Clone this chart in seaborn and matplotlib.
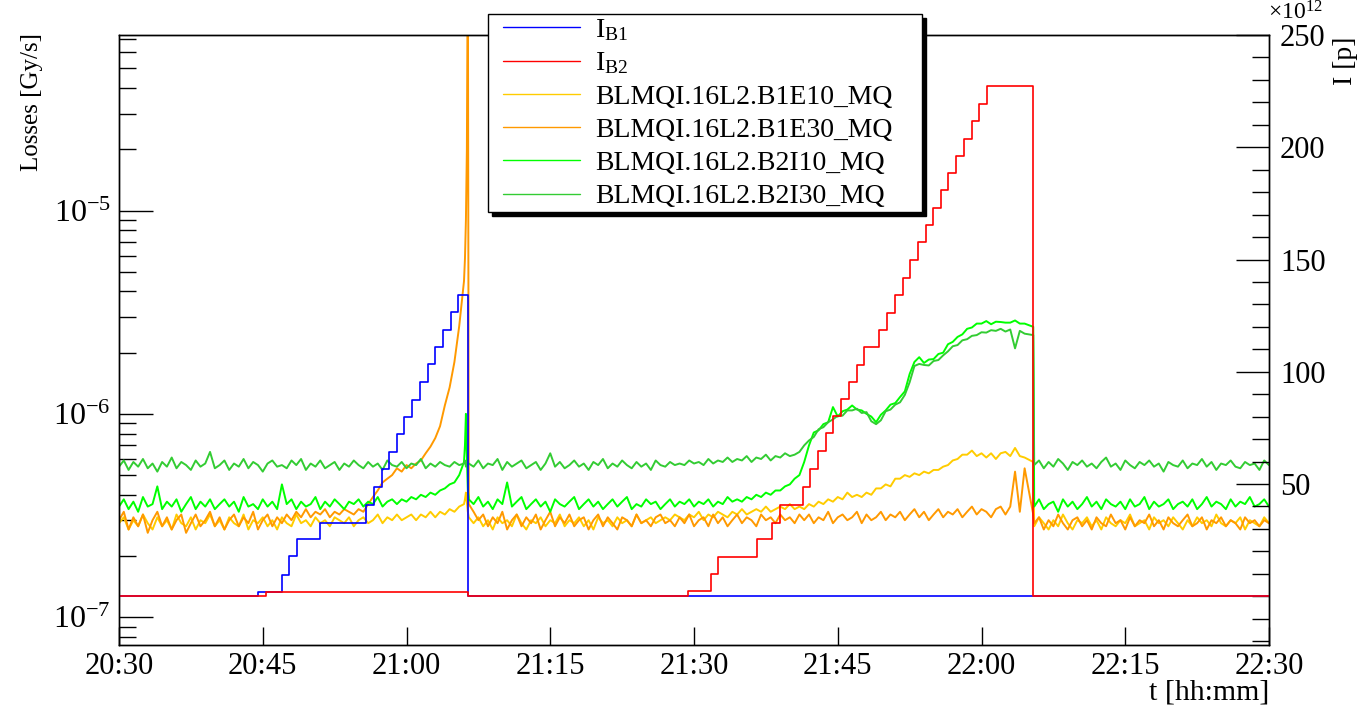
import numpy as np
import pandas as pd
import matplotlib
matplotlib.use("Agg")
import matplotlib.pyplot as plt
import seaborn as sns
from matplotlib.ticker import FixedLocator, FixedFormatter, NullFormatter, NullLocator
from matplotlib.lines import Line2D
from matplotlib.legend_handler import HandlerLine2D

# ---------------- data ----------------
# time axis: minutes after 20:30
t_early = list(np.arange(0.0, 36.0, 0.5))            # 0 .. 35.5  (72)
t_event = [36.0, 36.1, 36.2, 36.3, 36.4, 36.5]        # beam-1 dump (6)
t_late = list(np.arange(37.0, 95.0, 0.5)) + [95.4] + list(np.arange(95.5, 120.5, 0.5))  # (167)
t_min = t_early + t_event + t_late

x_tick_pos = [0, 15, 30, 45, 60, 75, 90, 105, 120]
x_tick_labels = ["20:30", "20:45", "21:00", "21:15", "21:30", "21:45", "22:00", "22:15", "22:30"]

# losses in units of 1e-7 Gy/s
b1e10 = [
    2.9, 3.1, 2.7, 3.0, 2.8, 3.2, 2.9, 2.7, 3.1, 2.8,
    3.0, 2.7, 3.2, 2.9, 2.8, 3.1, 2.7, 3.0, 2.9, 3.2,
    2.8, 3.0, 2.7, 3.1, 2.9, 2.8, 3.2, 2.7, 3.0, 2.9,
    3.1, 2.8, 3.0, 2.7, 3.1, 2.9, 2.8, 3.2, 2.9, 3.0,
    2.8, 3.1, 2.9, 3.0, 2.8, 3.1, 3.0, 2.9, 3.1, 2.8,
    3.0, 3.1, 2.9, 3.0, 3.2, 2.9, 3.1, 3.0, 3.2, 3.0,
    3.1, 3.2, 3.0, 3.2, 3.1, 3.3, 3.1, 3.3, 3.2, 3.4,
    3.3, 3.5,
    3.6, 3.8, 4.1, 3.7, 3.3, 3.1,
    2.9, 3.1, 2.8, 3.0, 2.7, 3.1, 2.9, 3.0, 2.8, 3.2,
    2.9, 2.7, 3.0, 2.9, 3.1, 2.8, 3.0, 2.9, 3.2, 2.8,
    3.0, 2.9, 3.1, 2.8, 3.0, 2.7, 3.1, 2.9, 3.0, 2.8,
    3.1, 2.9, 3.0, 2.8, 3.2, 2.9, 3.0, 3.1, 2.9, 3.0,
    3.1, 3.0, 3.2, 3.1,
    3.0, 3.2, 3.1, 3.3, 3.0, 3.2, 3.1, 3.3, 3.2, 3.1,
    3.3, 3.2, 3.4, 3.2, 3.3, 3.4, 3.3, 3.5, 3.3, 3.4,
    3.5, 3.4, 3.6, 3.4, 3.5,
    3.4, 3.6, 3.5, 3.7, 3.6, 3.8, 3.7, 3.9, 3.8, 4.1,
    3.9, 4.0, 3.9, 4.1, 4.0, 4.3, 4.3, 4.5, 4.4, 4.8,
    4.8, 5.0, 4.9, 5.1, 5.0, 5.2, 5.1, 5.3, 5.3, 5.5,
    5.6, 5.9, 6.0, 6.3, 6.3, 6.6, 6.2, 6.4, 6.1, 6.4,
    6.0, 6.4, 6.5, 6.2, 6.8, 6.2, 6.1, 5.8,
    2.8, 3.1, 2.9, 2.7, 3.0, 2.8, 3.2, 2.9, 2.7, 3.0,
    2.9, 3.1, 2.8, 3.0, 2.7, 3.1, 2.9, 2.8, 3.0, 2.9,
    3.2, 2.8, 2.9, 3.0, 2.7, 3.1, 2.9, 3.0, 2.8, 3.1,
    2.9, 2.7, 3.0, 2.8, 3.1, 2.9, 3.0, 2.8, 3.2, 2.9,
    2.8, 3.0, 2.9, 3.1, 2.7, 3.0, 2.9, 2.8, 3.1, 2.9,
]

b1e30 = [
    3.0, 3.3, 2.7, 3.1, 2.8, 3.2, 2.6, 3.0, 3.3, 2.8,
    3.1, 2.7, 3.0, 3.2, 2.6, 2.9, 3.2, 2.8, 3.0, 3.3,
    2.8, 3.1, 2.7, 3.0, 3.2, 2.8, 3.1, 2.9, 3.3, 2.7,
    3.0, 3.2, 2.8, 3.1, 2.9, 3.2, 3.0, 3.3, 3.1, 3.4,
    3.1, 3.3, 3.2, 3.4, 3.1, 3.3, 3.2, 3.4, 3.3, 3.2,
    3.4, 3.3, 3.6, 3.9, 4.2, 4.6, 4.8, 5.0, 5.4, 5.2,
    5.6, 5.4, 5.7, 5.9, 6.4, 6.9, 7.6, 8.7, 11.0, 13.5,
    18.0, 27.0,
    45.0, 58.0, 90.0, 200.0, 2000.0, 3.6,
    3.3, 3.0, 3.2, 2.8, 3.1, 2.9, 3.3, 2.7, 3.0, 3.2,
    2.8, 3.1, 2.9, 3.2, 2.7, 3.0, 3.3, 2.8, 3.1, 2.9,
    3.2, 2.8, 3.0, 3.1, 2.7, 3.0, 3.2, 2.8, 3.1, 2.9,
    2.7, 3.1, 3.0, 2.8, 3.2, 2.9, 3.0, 2.8, 3.1, 3.2,
    2.9, 3.0, 2.8, 3.1,
    2.9, 3.2, 2.8, 3.0, 3.1, 2.8, 3.2, 2.9, 3.1, 2.8,
    3.0, 3.2, 2.9, 3.1, 3.0, 2.8, 3.2, 3.0, 3.1, 2.9,
    3.2, 3.0, 3.1, 2.9, 3.2,
    3.0, 3.2, 2.9, 3.1, 3.0, 3.3, 2.9, 3.1, 3.2, 3.0,
    3.1, 3.3, 2.9, 3.2, 3.0, 3.1, 3.3, 3.0, 3.2, 3.1,
    3.3, 3.0, 3.2, 3.4, 3.1, 3.3, 3.0, 3.2, 3.4, 3.1,
    3.3, 3.2, 3.4, 3.1, 3.3, 3.5, 3.2, 3.4, 3.3, 3.1,
    3.4, 3.5, 3.2, 3.5, 5.2, 3.3, 5.4, 3.2,
    2.9, 3.1, 2.7, 3.0, 2.8, 3.2, 2.9, 2.7, 3.0, 3.1,
    2.8, 3.0, 2.7, 3.1, 2.9, 2.8, 3.2, 2.9, 3.0, 2.7,
    3.1, 2.8, 3.0, 2.9, 3.2, 2.8, 3.0, 2.7, 3.1, 2.9,
    2.8, 3.0, 3.2, 2.8, 2.9, 3.1, 2.7, 3.0, 2.9, 3.1,
    2.8, 3.0, 2.9, 2.7, 3.1, 2.9, 3.0, 2.8, 3.0, 2.9,
]

b2i10 = [
    3.5, 3.8, 3.4, 3.7, 3.3, 3.9, 3.5, 3.6, 4.4, 3.4,
    3.7, 3.5, 3.8, 3.3, 3.6, 3.9, 3.4, 3.7, 3.5, 3.8,
    3.4, 3.6, 3.8, 3.5, 3.7, 3.3, 3.9, 3.5, 3.6, 3.4,
    3.8, 3.5, 3.7, 3.4, 4.5, 3.6, 3.8, 3.4, 3.7, 3.5,
    3.6, 3.9, 3.4, 3.7, 3.5, 3.8, 3.6, 3.4, 3.7, 3.6,
    3.8, 3.5, 3.7, 3.6, 3.9, 3.5, 3.7, 3.8, 3.6, 3.8,
    3.7, 3.9, 3.8, 4.0, 3.9, 4.1, 4.0, 4.2, 4.3, 4.5,
    4.6, 5.0,
    5.8, 7.0, 10.0, 6.2, 4.2, 3.8,
    3.6, 3.9, 3.5, 3.7, 3.4, 3.8, 3.6, 4.6, 3.5, 3.7,
    3.9, 3.4, 3.6, 3.8, 3.5, 3.7, 3.3, 3.8, 3.6, 3.5,
    3.7, 3.9, 3.4, 3.6, 3.8, 3.5, 3.7, 3.4, 3.6, 3.8,
    3.5, 3.7, 3.9, 3.4, 3.6, 3.5, 3.8, 3.6, 3.7, 3.4,
    3.6, 3.8, 3.5, 3.7,
    3.6, 3.8, 3.5, 3.7, 3.6, 3.8, 3.5, 3.7, 3.6, 3.9,
    3.7, 3.8, 3.7, 3.9, 3.8, 4.0, 3.9, 4.1, 4.0, 4.2,
    4.2, 4.4, 4.5, 4.8, 5.0,
    5.8, 7.0, 8.1, 8.3, 8.9, 9.1, 10.8, 9.7, 10.3, 10.5,
    11.0, 10.5, 10.4, 10.0, 9.7, 9.1, 9.9, 10.4, 11.1, 11.3,
    12.1, 12.9, 15.7, 18.0, 19.0, 17.8, 18.5, 18.6, 19.7, 20.0,
    22.0, 22.6, 23.9, 24.6, 26.2, 26.6, 27.8, 27.8, 28.6, 27.6,
    28.4, 28.3, 28.1, 28.1, 28.8, 27.8, 27.8, 26.8,
    3.5, 3.8, 3.4, 3.6, 3.7, 3.3, 3.8, 3.5, 3.7, 3.4,
    3.6, 3.9, 3.5, 3.7, 3.4, 3.8, 3.6, 3.5, 3.7, 3.4,
    3.8, 3.5, 3.6, 3.9, 3.4, 3.7, 3.5, 3.6, 3.8, 3.4,
    3.6, 3.7, 3.5, 3.8, 3.4, 3.6, 3.9, 3.5, 3.7, 3.6,
    3.4, 3.8, 3.5, 3.7, 3.6, 3.9, 3.5, 3.6, 3.8, 3.5,
]

b2i30 = [
    5.5, 5.9, 5.3, 5.8, 5.5, 6.0, 5.4, 5.7, 5.2, 5.8,
    5.5, 6.1, 5.4, 5.8, 5.6, 5.3, 5.9, 5.5, 5.7, 6.5,
    5.4, 5.6, 5.9, 5.3, 5.7, 5.5, 6.0, 5.4, 5.8, 5.6,
    5.2, 5.7, 5.9, 5.5, 5.6, 5.4, 5.9, 5.6, 6.0, 5.3,
    5.7, 5.5, 5.9, 5.4, 5.6, 5.8, 5.3, 5.7, 5.5, 5.9,
    5.6, 5.4, 5.8, 5.5, 5.7, 5.3, 5.9, 5.6, 5.5, 5.8,
    5.4, 5.7, 5.6, 6.0, 5.4, 5.7, 5.5, 5.8, 5.6, 5.5,
    5.8, 5.6,
    5.7, 5.9, 5.5, 5.8, 5.6, 5.7,
    5.5, 5.9, 5.4, 5.7, 5.6, 6.0, 5.3, 5.8, 5.5, 5.7,
    5.9, 5.4, 5.6, 5.8, 5.3, 5.7, 6.4, 5.5, 5.8, 5.4,
    5.6, 5.9, 5.5, 5.7, 5.3, 5.8, 5.6, 6.0, 5.4, 5.7,
    5.5, 5.9, 5.6, 5.4, 5.8, 5.5, 5.7, 5.3, 5.9, 5.6,
    5.5, 5.8, 5.6, 5.7,
    5.6, 5.9, 5.7, 5.8, 5.6, 6.0, 5.7, 5.9, 5.8, 6.1,
    5.8, 6.0, 5.9, 6.2, 5.8, 6.1, 6.0, 6.3, 5.9, 6.2,
    6.1, 6.4, 6.2, 6.3, 6.5,
    7.0, 7.4, 7.7, 8.4, 8.6, 9.1, 9.4, 9.8, 9.8, 10.4,
    10.4, 10.6, 10.1, 10.2, 9.2, 8.9, 9.3, 10.3, 10.5, 11.1,
    11.4, 12.4, 14.3, 17.2, 17.6, 17.4, 17.3, 18.2, 18.4, 19.4,
    20.3, 21.5, 21.8, 23.0, 23.3, 24.2, 24.4, 25.2, 25.1, 25.8,
    25.6, 26.2, 25.4, 26.0, 21.0, 25.6, 24.8, 24.4,
    5.6, 5.9, 5.4, 5.8, 5.5, 6.0, 5.7, 5.3, 5.8, 5.6,
    5.9, 5.5, 5.7, 5.4, 5.8, 6.1, 5.5, 5.7, 5.3, 5.9,
    5.6, 5.4, 5.8, 5.6, 5.9, 5.5, 5.7, 5.2, 5.8, 5.6,
    5.5, 5.9, 5.4, 5.7, 5.6, 6.0, 5.5, 5.8, 5.3, 5.7,
    5.6, 5.9, 5.5, 5.4, 5.8, 5.6, 5.7, 5.3, 5.9, 5.6,
]

loss_names = ["BLMQI.16L2.B1E10_MQ", "BLMQI.16L2.B1E30_MQ",
              "BLMQI.16L2.B2I10_MQ", "BLMQI.16L2.B2I30_MQ"]
loss_colors = ["#ffcc00", "#ff9900", "#00ff00", "#33cc33"]

# beam intensities (x1e12 protons), step changes
ib1_t = [0, 14.5, 16.98, 17.77, 18.6, 20.97, 25.77, 26.6, 27.41, 28.17, 28.98,
         29.77, 30.57, 31.41, 32.21, 32.97, 33.78, 34.61, 35.41, 36.45, 120]
ib1_v = [0, 1.9, 9.7, 17.8, 25.4, 32.8, 40.8, 48.6, 56.6, 64.1, 72.2,
         79.9, 87.3, 95.3, 103.3, 111.0, 118.6, 126.6, 134.2, 0, 0]

ib2_t = [0, 15.3, 36.45, 59.41, 61.74, 62.54, 66.54, 68.1, 68.97, 71.34, 72.1,
         72.97, 73.74, 74.54, 75.34, 76.2, 76.97, 77.77, 79.34, 80.17, 80.97,
         81.77, 82.54, 83.34, 84.17, 84.97, 85.77, 86.54, 87.34, 88.17, 88.97,
         89.77, 90.6, 95.34, 120]
ib2_v = [0, 1.9, 0, 2.3, 10.0, 17.3, 25.5, 32.7, 40.8, 48.6, 56.7,
         64.7, 72.7, 80.5, 87.9, 95.4, 102.9, 111.2, 118.5, 126.2, 134.3,
         141.8, 150.0, 157.6, 165.3, 173.0, 181.1, 188.6, 196.3, 203.9, 211.6,
         219.4, 227.1, 0, 0]

# ---------------- style ----------------
sns.set_theme(style="ticks", rc={
    "axes.edgecolor": "black", "xtick.color": "black", "ytick.color": "black",
    "axes.linewidth": 1.0, "text.color": "black", "axes.labelcolor": "black",
})
plt.rcParams["font.family"] = ["Liberation Serif", "DejaVu Serif"]
plt.rcParams["mathtext.fontset"] = "custom"
plt.rcParams["mathtext.rm"] = "Liberation Serif"
plt.rcParams["mathtext.it"] = "Liberation Serif:italic"
plt.rcParams["mathtext.bf"] = "Liberation Serif:bold"

FS = 20
W, H = 1360, 709
fig = plt.figure(figsize=(W / 100, H / 100), dpi=100)
ax = fig.add_axes([119 / W, (H - 645) / H, 1150 / W, 610 / H])
ax.set_yscale("log")

# long-form loss table
rows = []
for name, vals in zip(loss_names, [b1e10, b1e30, b2i10, b2i30]):
    rows.append(pd.DataFrame({"t": t_min, "loss": np.array(vals) * 1e-7, "monitor": name}))
df_loss = pd.concat(rows, ignore_index=True)

sns.lineplot(data=df_loss, x="t", y="loss", hue="monitor", hue_order=loss_names,
             palette=dict(zip(loss_names, loss_colors)), estimator=None, sort=False,
             linewidth=1.4, legend=False, ax=ax)

ax.set_xlim(0, 120)
ax.set_ylim(7.3e-8, 7.3e-5)

ax2 = ax.twinx()
sns.lineplot(x=ib1_t, y=ib1_v, color="#0000ff", drawstyle="steps-post",
             estimator=None, sort=False, linewidth=1.2, ax=ax2)
sns.lineplot(x=ib2_t, y=ib2_v, color="#ff0000", drawstyle="steps-post",
             estimator=None, sort=False, linewidth=1.2, ax=ax2)
ax2.set_ylim(-21.7, 250)
ax2.set_xlim(0, 120)

# ---- ticks ----
ax.set_xticks(x_tick_pos)
ax.set_xticklabels(x_tick_labels)
ax.xaxis.set_minor_locator(NullLocator())
decades = [1e-7, 1e-6, 1e-5]
ax.yaxis.set_major_locator(FixedLocator(decades))
ax.yaxis.set_major_formatter(FixedFormatter([r"$10^{-7}$", r"$10^{-6}$", r"$10^{-5}$"]))
ax.yaxis.set_minor_locator(FixedLocator([m * d for d in [1e-8, 1e-7, 1e-6, 1e-5] for m in range(2, 10)]))
ax.yaxis.set_minor_formatter(NullFormatter())
ax.tick_params(axis="x", which="major", direction="in", length=13, width=1.0, pad=5,
               labelsize=22, top=False)
ax.tick_params(axis="y", which="major", direction="in", length=24.5, width=1.0, pad=6,
               labelsize=23, right=False)
ax.tick_params(axis="y", which="minor", direction="in", length=12.2, width=1.0, right=False)

ax2.yaxis.set_major_locator(FixedLocator([50, 100, 150, 200, 250]))
ax2.yaxis.set_minor_locator(FixedLocator([v for v in range(-20, 251, 10) if v % 50 != 0 or v <= 0]))
ax2.tick_params(axis="y", which="major", direction="in", length=24, width=1.0, pad=8,
                labelsize=22, left=False, right=True)
ax2.tick_params(axis="y", which="minor", direction="in", length=12.2, width=1.0, left=False, right=True)

for a in (ax, ax2):
    for s in a.spines.values():
        s.set_color("black")
        s.set_linewidth(1.0)

# ---- labels ----
ax.set_xlabel("t [hh:mm]", loc="right", fontsize=21.5)
ax.xaxis.set_label_coords(1.0, -0.057)
ax.set_ylabel("Losses [Gy/s]", loc="top", fontsize=18)
ax.yaxis.set_label_coords(-0.066, 1.003)
ax2.set_ylabel("I [p]", loc="top", fontsize=FS)
ax2.yaxis.set_label_coords(1.0557, 0.997)
fig.text(1268 / W, 1 - 20 / H, r"$\times$10$^{\mathregular{12}}$", ha="left", va="baseline", fontsize=17)

# ---- legend ----
handles = [ax2.lines[0], ax2.lines[1]] + list(ax.lines[:4])
labels = [r"I$_{\mathregular{B1}}$", r"I$_{\mathregular{B2}}$"] + loss_names
leg = ax2.legend(handles, labels, loc="upper left",
                 bbox_to_anchor=(488 / W, (H - 213) / H, 434 / W, 199 / H),
                 bbox_transform=fig.transFigure, mode="expand", borderaxespad=0,
                 fontsize=FS, frameon=True, fancybox=False, framealpha=1,
                 edgecolor="black", borderpad=0.1, handlelength=3.2,
                 handletextpad=0.55, labelspacing=0.28,
                 handler_map={Line2D: HandlerLine2D(xpad=0.43)},
                 shadow={"ox": 3, "oy": -3, "facecolor": "black", "edgecolor": "black", "alpha": 1})
leg.get_frame().set_linewidth(1.0)
for ln in leg.get_lines():
    ln.set_linewidth(1.0)

fig.savefig("out.png", dpi=100)
